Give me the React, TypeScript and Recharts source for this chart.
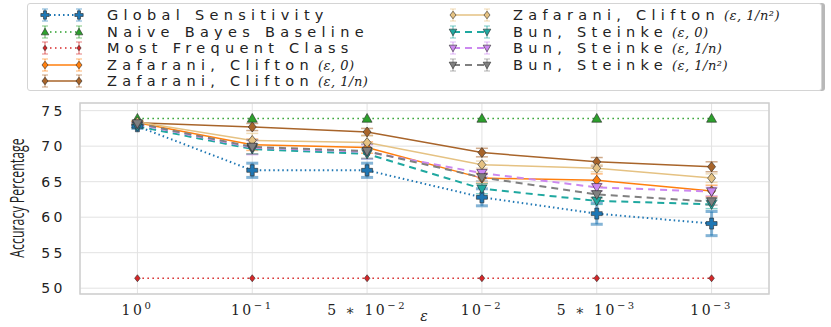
import {
  CartesianGrid,
  ComposedChart,
  ErrorBar,
  Line,
  ReferenceArea,
  XAxis,
  YAxis,
} from "recharts";

// x categories (epsilon), drawn at evenly spaced index positions
const epsBase = ["10", "10", "5 \u2217 10", "10", "5 \u2217 10", "10"];
const epsExp = ["0", "\u22121", "\u22122", "\u22122", "\u22123", "\u22123"];
const yTicks = [50, 55, 60, 65, 70, 75];

const globalSens = [72.8, 66.6, 66.6, 62.8, 60.5, 59.1];
const globalSensErr = [0.3, 1.0, 1.0, 1.2, 1.5, 1.7];
const naiveBayes = [73.9, 73.9, 73.9, 73.9, 73.9, 73.9];
const mostFrequent = [51.4, 51.4, 51.4, 51.4, 51.4, 51.4];
const zafEps0 = [73.3, 70.2, 69.8, 65.5, 65.2, 63.7];
const zafEps0Err = [0.2, 0.8, 0.8, 0.7, 0.9, 0.8];
const zafInvN = [73.3, 72.7, 72.0, 69.1, 67.8, 67.1];
const zafInvNErr = [0.2, 0.5, 0.5, 0.6, 0.6, 0.7];
const zafInvN2 = [73.4, 70.8, 70.5, 67.4, 66.9, 65.5];
const zafInvN2Err = [0.2, 1.0, 1.0, 0.5, 0.5, 0.6];
const bunEps0 = [72.8, 69.6, 68.9, 64.0, 62.3, 61.8];
const bunEps0Err = [0.2, 0.7, 0.7, 0.7, 0.5, 0.6];
const bunInvN = [73.1, 69.8, 69.2, 66.2, 64.2, 63.6];
const bunInvNErr = [0.2, 1.0, 1.0, 0.5, 0.5, 0.6];
const bunInvN2 = [73.2, 69.9, 69.3, 65.6, 63.2, 62.2];
const bunInvN2Err = [0.2, 1.0, 1.0, 0.5, 0.5, 0.5];

type Shape = "plus" | "tri-up" | "tri-down" | "diamond";

interface SeriesDef {
  key: string;
  name: string;
  math?: string;
  values: number[];
  err?: number[];
  color: string;
  dash?: string;
  width: number;
  shape: Shape;
  size: number;
}

const series: SeriesDef[] = [
  { key: "gs", name: "Global Sensitivity", values: globalSens, err: globalSensErr, color: "#1f77b4", dash: "1.5 3", width: 2, shape: "plus", size: 11 },
  { key: "nb", name: "Naive Bayes Baseline", values: naiveBayes, color: "#2ca02c", dash: "1.5 3.5", width: 1.5, shape: "tri-up", size: 10 },
  { key: "mf", name: "Most Frequent Class", values: mostFrequent, color: "#d62728", dash: "1.5 3.5", width: 1.5, shape: "diamond", size: 7 },
  { key: "z0", name: "Zafarani, Clifton", math: "(\u03b5, 0)", values: zafEps0, err: zafEps0Err, color: "#ff7f0e", width: 1.5, shape: "diamond", size: 10 },
  { key: "z1", name: "Zafarani, Clifton", math: "(\u03b5, 1/n)", values: zafInvN, err: zafInvNErr, color: "#a8642a", width: 1.5, shape: "diamond", size: 10 },
  { key: "z2", name: "Zafarani, Clifton", math: "(\u03b5, 1/n\u00b2)", values: zafInvN2, err: zafInvN2Err, color: "#e5c283", width: 1.5, shape: "diamond", size: 10 },
  { key: "b0", name: "Bun, Steinke", math: "(\u03b5, 0)", values: bunEps0, err: bunEps0Err, color: "#1fa8a0", dash: "7 5", width: 2, shape: "tri-down", size: 10 },
  { key: "b1", name: "Bun, Steinke", math: "(\u03b5, 1/n)", values: bunInvN, err: bunInvNErr, color: "#cc88f0", dash: "7 5", width: 2, shape: "tri-down", size: 10 },
  { key: "b2", name: "Bun, Steinke", math: "(\u03b5, 1/n\u00b2)", values: bunInvN2, err: bunInvN2Err, color: "#808080", dash: "7 5", width: 2, shape: "tri-down", size: 10 },
];

const data = epsBase.map((_, i) => {
  const row: Record<string, number> = { x: i };
  series.forEach((s) => {
    row[s.key] = s.values[i];
    if (s.err) row[s.key + "Err"] = s.err[i];
  });
  return row;
});

function marker(shape: Shape, cx: number, cy: number, r: number, color: string, key?: string | number) {
  const edge = { stroke: "rgba(40,40,40,0.75)", strokeWidth: 0.8 };
  if (shape === "plus") {
    const a = r * 0.36;
    const pts = [
      [-a, -r], [a, -r], [a, -a], [r, -a], [r, a], [a, a], [a, r], [-a, r], [-a, a], [-r, a], [-r, -a], [-a, -a],
    ].map(([dx, dy]) => `${cx + dx},${cy + dy}`).join(" ");
    return <polygon key={key} points={pts} fill={color} {...edge} />;
  }
  if (shape === "diamond") {
    const pts = `${cx},${cy - r} ${cx + r * 0.8},${cy} ${cx},${cy + r} ${cx - r * 0.8},${cy}`;
    return <polygon key={key} points={pts} fill={color} {...edge} />;
  }
  // apex up for tri-up, apex down for tri-down
  const s = shape === "tri-up" ? -1 : 1;
  const pts = `${cx},${cy + s * r} ${cx + r},${cy - s * r * 0.75} ${cx - r},${cy - s * r * 0.75}`;
  return <polygon key={key} points={pts} fill={color} {...edge} />;
}

const dotFor = (s: SeriesDef) => (props: any) =>
  marker(s.shape, props.cx, props.cy, s.size / 2, s.color, props.index);

const XTick = (props: any) => {
  const i = props.payload.value as number;
  return (
    <text x={props.x} y={props.y + 13} textAnchor="middle" fontFamily="'DejaVu Serif', serif" fontSize={14} fill="#222" letterSpacing={2.5}>
      {epsBase[i]}
      <tspan dy={-6} fontSize={10}>{epsExp[i]}</tspan>
    </text>
  );
};

const YTick = (props: any) => (
  <text x={props.x - 6} y={props.y + 5} textAnchor="end" fontFamily="'DejaVu Sans', sans-serif" fontSize={14} fill="#222" letterSpacing={3.5}>
    {props.payload.value}
  </text>
);

const legendRows = [
  { col: 0, row: 0 }, { col: 0, row: 1 }, { col: 0, row: 2 }, { col: 0, row: 3 }, { col: 0, row: 4 },
  { col: 1, row: 0 }, { col: 1, row: 1 }, { col: 1, row: 2 }, { col: 1, row: 3 },
];

function LegendBox() {
  return (
    <div style={{ position: "absolute", left: 27, top: 3, width: 793, height: 86, border: "1px solid #d4d4d4", borderRadius: 3, boxShadow: "3px 0 0 #b8b8b8", background: "#fff" }}>
      {series.map((s, i) => {
        const { col, row } = legendRows[i];
        const y = 11 + row * 16.5;
        const handleLeft = col === 0 ? 10 : 418;
        const textLeft = col === 0 ? 79 : 485;
        return (
          <div key={s.key}>
            <svg style={{ position: "absolute", left: handleLeft, top: y - 8 }} width={48} height={16}>
              <line x1={7} x2={41} y1={8} y2={8} stroke={s.color} strokeWidth={s.width} strokeDasharray={s.dash} />
              {[7, 41].map((cx) => (
                <g key={cx}>
                  <line x1={cx} x2={cx} y1={2} y2={14} stroke={s.color} strokeOpacity={0.5} strokeWidth={1.5} />
                  <line x1={cx - 3} x2={cx + 3} y1={2} y2={2} stroke={s.color} strokeOpacity={0.5} strokeWidth={1.2} />
                  <line x1={cx - 3} x2={cx + 3} y1={14} y2={14} stroke={s.color} strokeOpacity={0.5} strokeWidth={1.2} />
                  {marker(s.shape, cx, 8, s.size * 0.38, s.color)}
                </g>
              ))}
            </svg>
            <div style={{ position: "absolute", left: textLeft, top: y - 9, whiteSpace: "nowrap", lineHeight: "18px", color: "#222" }}>
              <span style={{ fontFamily: "'DejaVu Sans', sans-serif", fontSize: 14.5, letterSpacing: 5.3 }}>{s.name}</span>
              {s.math && (
                <span style={{ fontFamily: "'DejaVu Serif', serif", fontStyle: "italic", fontSize: 13, marginLeft: 4, letterSpacing: 0.5 }}>{s.math}</span>
              )}
            </div>
          </div>
        );
      })}
    </div>
  );
}

export default function App() {
  return (
    <div style={{ position: "absolute", left: 0, top: 0, width: 831, height: 327, background: "#fff" }}>
      <ComposedChart width={831} height={327} data={data} margin={{ top: 103, right: 62, bottom: 0, left: 0 }}>
        <CartesianGrid stroke="#e2e2e2" strokeWidth={1} />
        <XAxis dataKey="x" type="number" domain={[-0.5, 5.5]} ticks={[0, 1, 2, 3, 4, 5]} tick={<XTick />} axisLine={false} tickLine={false} height={33} interval={0} />
        <XAxis xAxisId="top" orientation="top" dataKey="x" type="number" domain={[-0.5, 5.5]} ticks={[0, 1, 2, 3, 4, 5]} tick={false} axisLine={false} tickLine={{ stroke: "#444" }} tickSize={3} height={0} />
        <YAxis type="number" domain={[49.18, 76.08]} ticks={yTicks} tick={<YTick />} axisLine={false} tickLine={false} width={80} allowDataOverflow />
        <YAxis yAxisId="right" orientation="right" type="number" domain={[49.18, 76.08]} ticks={yTicks} tick={false} axisLine={false} tickLine={{ stroke: "#999" }} tickSize={5} width={0} allowDataOverflow />
        <ReferenceArea x1={-0.5} x2={5.5} y1={49.18} y2={76.08} fill="none" stroke="#cfcfcf" strokeWidth={1.5} ifOverflow="visible" />
        {series.map((s) => (
          <Line
            key={s.key}
            dataKey={s.key}
            stroke={s.color}
            strokeWidth={s.width}
            strokeDasharray={s.dash}
            dot={dotFor(s)}
            activeDot={false}
            isAnimationActive={false}
          >
            {s.err && (
              <ErrorBar dataKey={s.key + "Err"} width={6} stroke={s.color} strokeOpacity={0.55} strokeWidth={s.key === "gs" ? 3 : 1.5} direction="y" />
            )}
          </Line>
        ))}
        <text x={424} y={321} textAnchor="middle" fontFamily="'DejaVu Serif', serif" fontStyle="italic" fontSize={14} fill="#222">
          {"\u03b5"}
        </text>
        <text transform="translate(24,198) rotate(-90) scale(0.62,1)" textAnchor="middle" fontFamily="'Open Sans', sans-serif" fontSize={20} fill="#222">
          Accuracy Percentage
        </text>
      </ComposedChart>
      <LegendBox />
    </div>
  );
}
